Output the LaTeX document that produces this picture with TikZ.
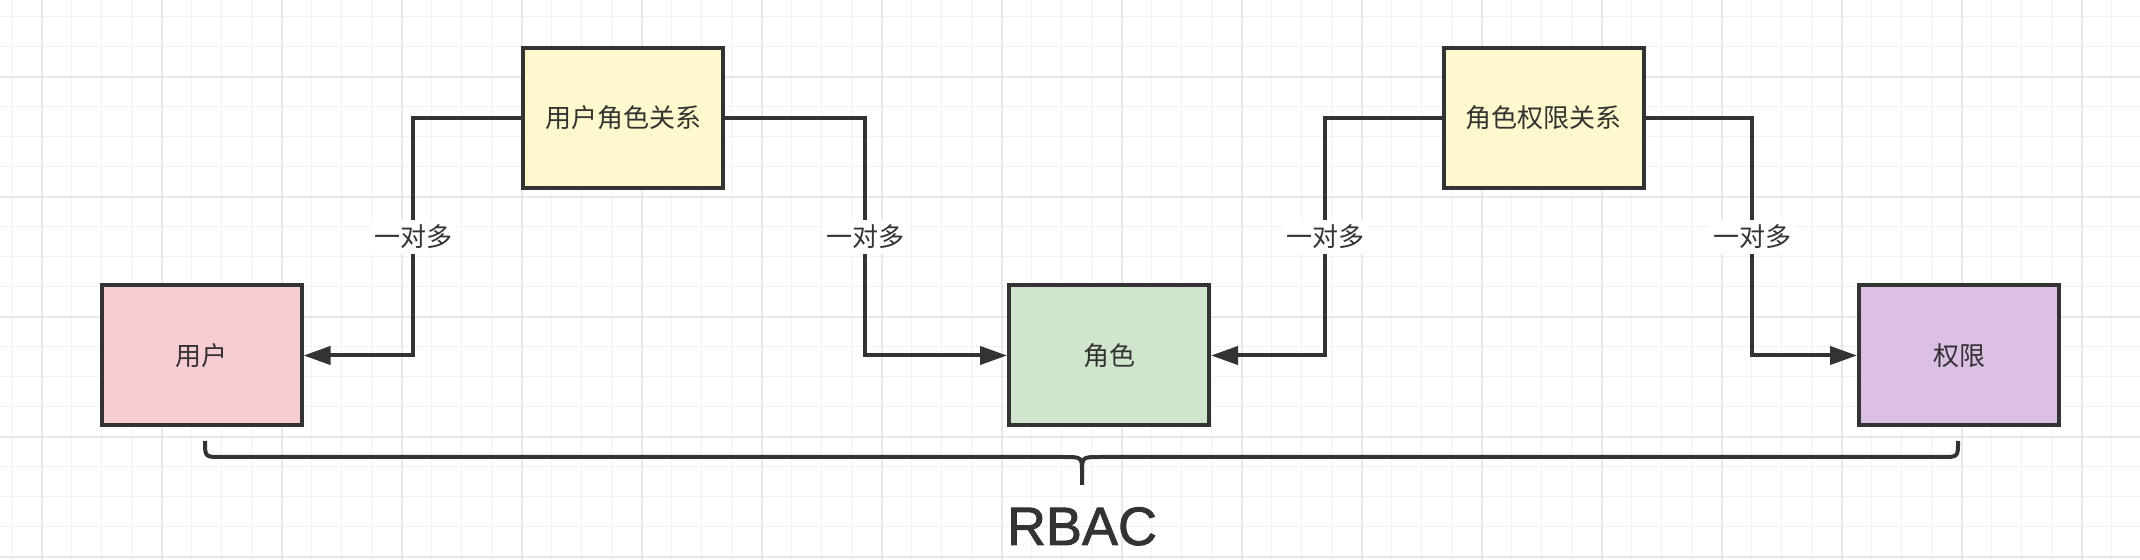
\documentclass[tikz,border=0pt]{standalone}
\usepackage{fontspec}
\setmainfont{Liberation Sans}
\newfontfamily\cjk{Noto Sans CJK SC}
\newfontfamily\rbacfont[FakeBold=1.6]{Liberation Sans}
\usetikzlibrary{arrows.meta}
\definecolor{ink}{HTML}{333333}
\definecolor{pinkfill}{HTML}{F8CDD2}
\definecolor{yellowfill}{HTML}{FDF9CC}
\definecolor{greenfill}{HTML}{CFE5CC}
\definecolor{purplefill}{HTML}{DCBFE5}
\definecolor{minorgrid}{HTML}{F2F2F2}
\definecolor{majorgrid}{HTML}{E8E8E8}
\begin{document}
\begin{tikzpicture}[x=0.5pt,y=-0.5pt,
  box/.style={draw=ink, line width=2pt, minimum width=100pt, minimum height=70pt, inner sep=0pt,
    font=\cjk\fontsize{13pt}{15pt}\selectfont, text=ink},
  conn/.style={draw=ink, line width=2pt, -{Triangle[length=13.5pt,width=9pt]}},
  lbl/.style={fill=white, text=ink, font=\cjk\fontsize{13pt}{15pt}\selectfont, inner xsep=2pt, inner ysep=2.5pt},
  bracestyle/.style={draw=ink, line width=2pt},
  gridminor/.style={draw=minorgrid, line width=0.6pt},
  gridmajor/.style={draw=majorgrid, line width=0.9pt}]
\useasboundingbox (0,0) rectangle (2140,560);
\fill[white] (0,0) rectangle (2140,560);
\foreach \x in {11.7,41.7,...,2140} \draw[gridminor] (\x,0) -- (\x,560);
\foreach \y in {16.7,46.7,...,560} \draw[gridminor] (0,\y) -- (2140,\y);
\foreach \x in {41.7,161.7,...,2140} \draw[gridmajor] (\x,0) -- (\x,560);
\foreach \y in {76.7,196.7,...,560} \draw[gridmajor] (0,\y) -- (2140,\y);

\node[box, fill=pinkfill]   (u)  at (201.5,355.5) {用户};
\node[box, fill=yellowfill] (ur) at (623,118)   {用户角色关系};
\node[box, fill=greenfill]  (r)  at (1109,355.5) {角色};
\node[box, fill=yellowfill] (rp) at (1543.5,118) {角色权限关系};
\node[box, fill=purplefill] (p)  at (1959,355.5) {权限};

\coordinate (k1) at (413,118);
\coordinate (k2) at (865,118);
\coordinate (k3) at (1325,118);
\coordinate (k4) at (1752,118);

\draw[conn] (ur.west) -- (k1) -- node[lbl]{一对多} (k1 |- u.east) -- (u.east);
\draw[conn] (ur.east) -- (k2) -- node[lbl]{一对多} (k2 |- r.west) -- (r.west);
\draw[conn] (rp.west) -- (k3) -- node[lbl]{一对多} (k3 |- r.east) -- (r.east);
\draw[conn] (rp.east) -- (k4) -- node[lbl]{一对多} (k4 |- p.west) -- (p.west);

\coordinate (bl) at (205,441);
\coordinate (br) at (1958,441);
\coordinate (bt) at (1082,485);
\draw[bracestyle] (bl) .. controls (205,457) .. (221,457) -- (1064,457) .. controls (1082,457) .. (1082,473) -- (bt);
\draw[bracestyle] (br) .. controls (1958,457) .. (1942,457) -- (1100,457) .. controls (1082,457) .. (1082,473);

\node[anchor=base, text=ink, font=\rbacfont\fontsize{27pt}{30pt}\selectfont, inner sep=0pt] (rbac) at (1082,545) {RBAC};
\end{tikzpicture}
\end{document}
